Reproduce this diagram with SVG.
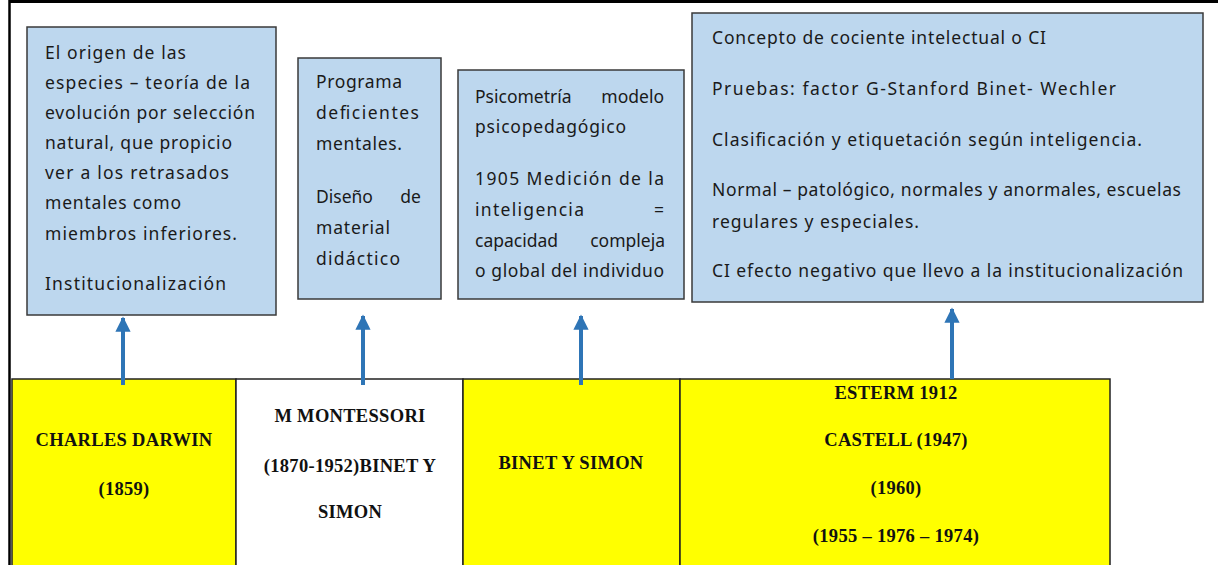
<svg xmlns="http://www.w3.org/2000/svg" width="1218" height="565" viewBox="0 0 1218 565">
<defs>
<style>
.box{fill:#BDD7EE;stroke:#3a3a3a;stroke-width:1.5}
.t{font-family:"Noto Sans","DejaVu Sans",sans-serif;font-size:17.5px;fill:#1a1a1a}
.cell{stroke:#222;stroke-width:1.5}
.y{fill:#FFFF00}
.w{fill:#FFFFFF}
.b{font-family:"Liberation Serif","Times New Roman",serif;font-weight:bold;font-size:18.5px;fill:#111;text-anchor:middle;letter-spacing:0.3px}
.arr{stroke:#2E75B6;stroke-width:4;fill:none}
</style>
<marker id="ah" viewBox="0 0 10 10" refX="9" refY="5" markerWidth="3.8" markerHeight="3.8" orient="auto" markerUnits="strokeWidth">
<path d="M0,0 L10,5 L0,10 z" fill="#2E75B6"/>
</marker>
</defs>
<rect x="0" y="0" width="1218" height="565" fill="#fff"/>
<line x1="9" y1="1.5" x2="1218" y2="1.5" stroke="#000" stroke-width="3"/>
<line x1="9.5" y1="0" x2="9.5" y2="565" stroke="#000" stroke-width="2.5"/>

<g id="box1">
<rect class="box" x="27" y="27" width="249" height="288"/>
<text class="t" x="45" y="59" textLength="141">El origen de las</text>
<text class="t" x="45" y="89" textLength="205">especies – teoría de la</text>
<text class="t" x="45" y="119" textLength="210">evolución por selección</text>
<text class="t" x="45" y="149" textLength="187">natural, que propicio</text>
<text class="t" x="45" y="179" textLength="184">ver a los retrasados</text>
<text class="t" x="45" y="209" textLength="136">mentales como</text>
<text class="t" x="45" y="240" textLength="192">miembros inferiores.</text>
<text class="t" x="45" y="290" textLength="181">Institucionalización</text>
</g>

<g id="box2">
<rect class="box" x="298" y="58" width="143" height="241"/>
<text class="t" x="316" y="88" textLength="86">Programa</text>
<text class="t" x="316" y="119" textLength="103">deficientes</text>
<text class="t" x="316" y="150" textLength="86">mentales.</text>
<text class="t" x="316" y="203">Diseño</text>
<text class="t" x="421" y="203" text-anchor="end">de</text>
<text class="t" x="316" y="234" textLength="74">material</text>
<text class="t" x="316" y="265" textLength="84">didáctico</text>
</g>

<g id="box3">
<rect class="box" x="458" y="70" width="226" height="229"/>
<text class="t" x="475" y="103">Psicometría</text>
<text class="t" x="664" y="103" text-anchor="end">modelo</text>
<text class="t" x="475" y="133" textLength="151">psicopedagógico</text>
<text class="t" x="475" y="185" textLength="189">1905 Medición de la</text>
<text class="t" x="475" y="216" textLength="109">inteligencia</text>
<text class="t" x="664" y="216" text-anchor="end">=</text>
<text class="t" x="475" y="247">capacidad</text>
<text class="t" x="665" y="247" text-anchor="end">compleja</text>
<text class="t" x="475" y="277" textLength="189">o global del individuo</text>
</g>

<g id="box4">
<rect class="box" x="692" y="13" width="511" height="289"/>
<text class="t" x="712" y="44" textLength="334">Concepto de cociente intelectual o CI</text>
<text class="t" x="712" y="95" textLength="404">Pruebas: factor G-Stanford Binet- Wechler</text>
<text class="t" x="712" y="146" textLength="430">Clasificación y etiquetación  según inteligencia.</text>
<text class="t" x="712" y="196" textLength="469">Normal – patológico, normales y anormales, escuelas</text>
<text class="t" x="712" y="228" textLength="207">regulares y especiales.</text>
<text class="t" x="712" y="277" textLength="471">CI efecto negativo que llevo a la institucionalización</text>
</g>

<g id="cell-darwin">
<rect class="cell y" x="12" y="379" width="224" height="190"/>
<text class="b" x="124" y="446">CHARLES DARWIN</text>
<text class="b" x="124" y="495">(1859)</text>
</g>
<g id="cell-montessori">
<rect class="cell w" x="236" y="379" width="227" height="190"/>
<text class="b" x="350" y="422">M MONTESSORI</text>
<text class="b" x="350" y="472">(1870-1952)BINET Y</text>
<text class="b" x="350" y="518">SIMON</text>
</g>
<g id="cell-binet">
<rect class="cell y" x="463" y="379" width="217" height="190"/>
<text class="b" x="571" y="469">BINET Y SIMON</text>
</g>
<g id="cell-esterm">
<rect class="cell y" x="680" y="379" width="430" height="190"/>
<text class="b" x="896" y="399">ESTERM 1912</text>
<text class="b" x="896" y="446">CASTELL (1947)</text>
<text class="b" x="896" y="494">(1960)</text>
<text class="b" x="896" y="542">(1955 – 1976 – 1974)</text>
</g>

<g id="connectors">
<line class="arr" x1="123" y1="385" x2="123" y2="318" marker-end="url(#ah)"/>
<line class="arr" x1="363" y1="385" x2="363" y2="316" marker-end="url(#ah)"/>
<line class="arr" x1="581" y1="385" x2="581" y2="316" marker-end="url(#ah)"/>
<line class="arr" x1="952" y1="379" x2="952" y2="309" marker-end="url(#ah)"/>
</g>
</svg>
